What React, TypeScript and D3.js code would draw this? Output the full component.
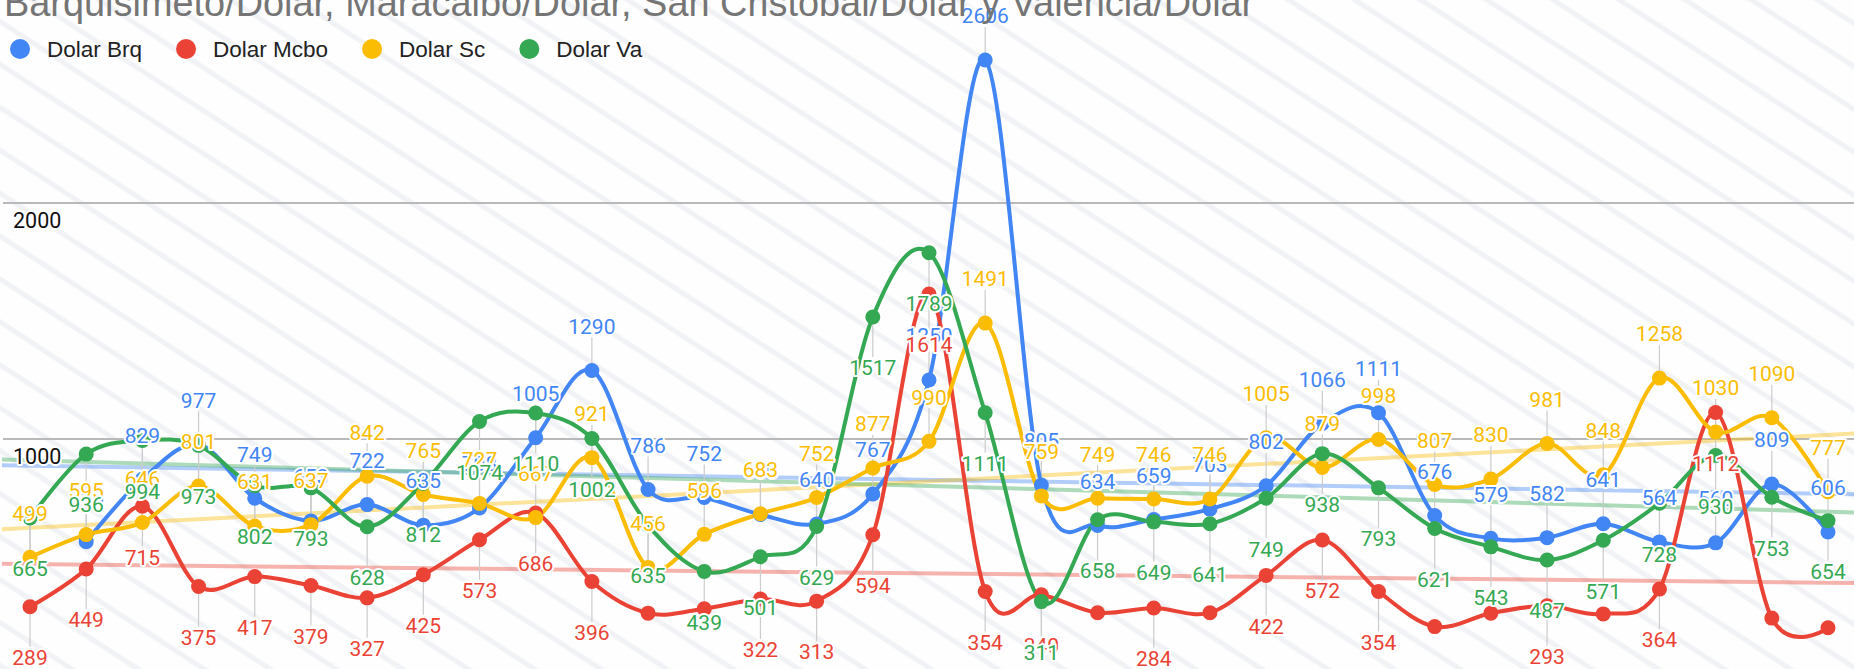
import React, { useEffect } from 'react';
import * as d3 from 'd3';

const title = 'Barquisimeto/Dolar, Maracaibo/Dolar, San Cristobal/Dolar y Valencia/Dolar';
const seriesNames = ['Dolar Brq', 'Dolar Mcbo', 'Dolar Sc', 'Dolar Va'];
const seriesColors = ['#4285F4', '#EA4335', '#FBBC04', '#34A853'];
const categories = ['1','2','3','4','5','6','7','8','9','10','11','12','13','14','15','16','17','18','19','20','21','22','23','24','25','26','27','28','29','30','31','32','33'];
const yTicks = [1000, 2000];

const dolarBrq: (number | null)[] = [null, 565, 829, 977, 749, 653, 722, 635, 708, 1005, 1290, 786, 752, 680, 640, 767, 1250, 2606, 805, 634, 659, 703, 802, 1066, 1111, 676, 579, 582, 641, 564, 560, 809, 606];
const dolarMcbo: (number | null)[] = [289, 449, 715, 375, 417, 379, 327, 425, 573, 686, 396, 262, 281, 322, 313, 594, 1614, 354, 340, 264, 284, 264, 422, 572, 354, 205, 262, 293, 259, 364, 1112, 241, 200];
const dolarSc: (number | null)[] = [499, 595, 646, 801, 631, 637, 842, 765, 727, 667, 921, 456, 596, 683, 752, 877, 990, 1491, 759, 749, 746, 746, 1005, 879, 998, 807, 830, 981, 848, 1258, 1030, 1090, 777];
const dolarVa: (number | null)[] = [665, 936, 994, 973, 802, 793, 628, 812, 1074, 1110, 1002, 635, 439, 501, 629, 1517, 1789, 1111, 311, 658, 649, 641, 749, 938, 793, 621, 543, 487, 571, 728, 930, 753, 654];

// label placement per series (layout only)
const labelSide = ['above', 'below', 'above', 'below'];
const mcboHiddenLabels = [11, 12, 19, 21, 25, 26, 28, 31, 32];

const W = 1854;
const H = 669;

function measure(text: string, font: string): number {
  const c = document.createElement('canvas').getContext('2d');
  if (!c) return text.length * 11;
  c.font = font;
  return c.measureText(text).width;
}

export default function App() {
  useEffect(() => {
    document.body.style.margin = '0';
    document.body.style.overflow = 'hidden';
  }, []);

  const allSeries = [dolarBrq, dolarMcbo, dolarSc, dolarVa];
  const x = d3.scalePoint<string>().domain(categories).range([30, 1828]);
  const step = x.step();
  const y = d3.scaleLinear().domain([0, 3000]).range([675, -33]);

  const line = d3
    .line<number | null>()
    .defined((v) => v != null)
    .x((_, i) => x(categories[i]) as number)
    .y((v) => y(v as number))
    .curve(d3.curveCardinal.tension(0));

  const trends = allSeries.map((s) => {
    const pts = s.map((v, i) => [i, v] as [number, number | null]).filter((p) => p[1] != null) as [number, number][];
    const mx = d3.mean(pts, (p) => p[0]) as number;
    const my = d3.mean(pts, (p) => p[1]) as number;
    const sxy = d3.sum(pts, (p) => (p[0] - mx) * (p[1] - my));
    const sxx = d3.sum(pts, (p) => (p[0] - mx) ** 2);
    const slope = sxy / sxx;
    const i0 = -0.5;
    const i1 = categories.length - 0.5;
    const x0 = (x(categories[0]) as number) - step / 2;
    const x1 = (x(categories[categories.length - 1]) as number) + step / 2;
    return { x0, x1, y0: y(my + slope * (i0 - mx)), y1: y(my + slope * (i1 - mx)) };
  });

  const legendFontSize = 22.5;
  const legendFont = `${legendFontSize}px 'Liberation Sans', Arial, sans-serif`;

  // legend layout
  let cur = 20;
  const legendItems = seriesNames.map((name, i) => {
    const cx = cur;
    const tx = cx + 27;
    const w = measure(name, legendFont);
    cur = tx + w + 44;
    return { name, color: seriesColors[i], cx, tx };
  });

  const labels: { x: number; py: number; cy: number; text: string; color: string; side: string }[][] = allSeries.map((s, si) =>
    s
      .map((v, i) => {
        if (v == null) return null;
        if (si === 1 && mcboHiddenLabels.includes(i)) return null;
        const px = x(categories[i]) as number;
        const py = y(v);
        const side = labelSide[si];
        const cy = side === 'above' ? py - 44 : py + 51;
        return { x: px, py, cy, text: String(v), color: seriesColors[si], side };
      })
      .filter(Boolean) as any
  );

  return (
    <svg width={W} height={H} style={{ position: 'absolute', left: 0, top: 0, display: 'block' }}>
      <defs>
        <pattern id="stripes" width={60} height={36} patternUnits="userSpaceOnUse" patternTransform="rotate(33)">
          <rect width={60} height={36} fill="#fefefe" />
          <line x1={0} y1={18} x2={60} y2={18} stroke="#f1f2f5" strokeWidth={5} />
        </pattern>
      </defs>
      <rect x={0} y={0} width={W} height={H} fill="url(#stripes)" />

      {/* gridlines */}
      {yTicks.map((t) => (
        <line key={t} x1={3} x2={W} y1={y(t)} y2={y(t)} stroke="#b9b9b9" strokeWidth={2} />
      ))}

      {/* trendlines */}
      {trends.map((t, i) => (
        <line key={i} x1={t.x0} y1={t.y0} x2={t.x1} y2={t.y1} stroke={seriesColors[i]} strokeOpacity={0.4} strokeWidth={4} />
      ))}

      {/* leader lines */}
      {labels.map((ls, si) =>
        ls.map((l, j) => (
          <line
            key={`ld${si}-${j}`}
            x1={l.x}
            x2={l.x}
            y1={l.py}
            y2={l.side === 'above' ? l.cy + 11 : l.cy - 11}
            stroke="#cccccc"
            strokeWidth={1.2}
          />
        ))
      )}

      {/* series lines */}
      {allSeries.map((s, i) => (
        <path key={i} d={line(s) || ''} fill="none" stroke={seriesColors[i]} strokeWidth={4} />
      ))}
      {allSeries.map((s, si) =>
        s.map((v, i) =>
          v == null ? null : (
            <circle key={`p${si}-${i}`} cx={x(categories[i]) as number} cy={y(v)} r={7.5} fill={seriesColors[si]} />
          )
        )
      )}

      {/* axis labels */}
      {yTicks.map((t) => (
        <text
          key={`t${t}`}
          x={13}
          y={y(t) + 17}
          dy="0.35em"
          fontFamily="Roboto"
          fontSize={21.5}
          fill="#111"
          stroke="#fff"
          strokeWidth={4}
          strokeLinejoin="round"
          paintOrder="stroke"
        >
          {t}
        </text>
      ))}

      {/* data labels */}
      {labels.map((ls, si) =>
        ls.map((l, j) => (
          <text
            key={`l${si}-${j}`}
            x={l.x}
            y={l.cy}
            dy="0.35em"
            textAnchor="middle"
            fontFamily="Roboto"
            fontSize={21}
            fill={l.color}
            stroke="#fff"
            strokeWidth={4}
            strokeLinejoin="round"
            paintOrder="stroke"
          >
            {l.text}
          </text>
        ))
      )}

      {/* legend */}
      {legendItems.map((it) => (
        <g key={it.name}>
          <circle cx={it.cx} cy={49} r={10} fill={it.color} />
          <text x={it.tx} y={49} dy="0.35em" fontFamily="'Liberation Sans', Arial, sans-serif" fontSize={legendFontSize} fill="#222">
            {it.name}
          </text>
        </g>
      ))}

      {/* title */}
      <text x={4} y={16} fontFamily="'Liberation Sans', Arial, sans-serif" fontSize={37.9} fill="#757575">
        {title}
      </text>
    </svg>
  );
}
